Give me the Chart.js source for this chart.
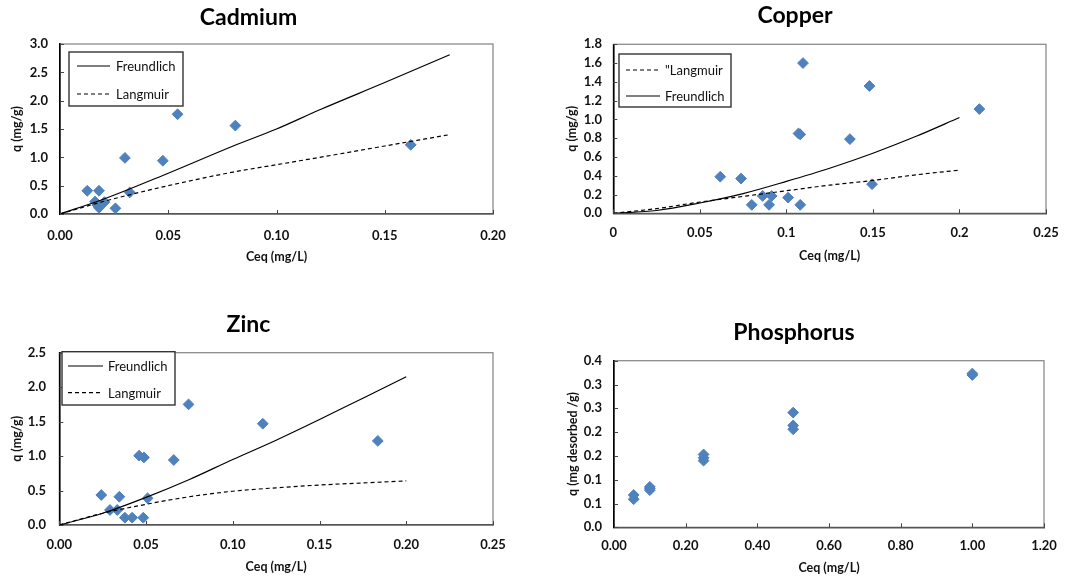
<!DOCTYPE html>
<html>
<head>
<meta charset="utf-8">
<title>Isotherms</title>
<script src="https://cdn.jsdelivr.net/npm/chart.js@4.4.1/dist/chart.umd.min.js"></script>
<style>
  body { margin: 0; background: #fff; }
  #wrap { position: relative; width: 1087px; height: 579px; }
  #wrap canvas { position: absolute; }
</style>
</head>
<body>
<div id="wrap">
  <canvas id="cadmiumChart" width="540" height="270" style="left:0;top:0"></canvas>
  <canvas id="copperChart" width="547" height="270" style="left:540px;top:0"></canvas>
  <canvas id="zincChart" width="540" height="289" style="left:0;top:290px"></canvas>
  <canvas id="phosChart" width="547" height="289" style="left:540px;top:290px"></canvas>
</div>
<script>
// --- 1. DATA ---

// Cadmium
const cadCeq = [0.0126, 0.0180, 0.0162, 0.0180, 0.0172, 0.0205, 0.0256, 0.0300, 0.0322, 0.0475, 0.0543, 0.0810, 0.1620];
const cadQ   = [0.41, 0.41, 0.22, 0.11, 0.16, 0.21, 0.10, 0.99, 0.38, 0.94, 1.76, 1.56, 1.22];
const cadFitX = [0, 0.02, 0.05, 0.08, 0.10, 0.12, 0.15, 0.18];
const cadFreundlich = [0, 0.26, 0.72, 1.20, 1.50, 1.84, 2.32, 2.81];
const cadLangmuir   = [0, 0.22, 0.50, 0.74, 0.87, 1.00, 1.20, 1.40];
const cadXTicks = ['0.00', '0.05', '0.10', '0.15', '0.20'];
const cadYTicks = ['0.0', '0.5', '1.0', '1.5', '2.0', '2.5', '3.0'];

// Copper
const cuCeq = [0.0618, 0.0738, 0.0800, 0.0863, 0.0900, 0.0915, 0.1010, 0.1080, 0.1070, 0.1080, 0.1096, 0.1367, 0.1480, 0.1495, 0.2115];
const cuQ   = [0.39, 0.37, 0.09, 0.185, 0.09, 0.185, 0.167, 0.09, 0.85, 0.84, 1.60, 0.79, 1.356, 0.31, 1.11];
const cuFitX = [0, 0.025, 0.05, 0.075, 0.1, 0.125, 0.15, 0.175, 0.2];
const cuFreundlich = [0, 0.03, 0.11, 0.21, 0.34, 0.48, 0.64, 0.82, 1.02];
const cuLangmuir   = [0, 0.05, 0.12, 0.18, 0.24, 0.30, 0.35, 0.41, 0.46];
const cuXTicks = ['0', '0.05', '0.1', '0.15', '0.2', '0.25'];
const cuYTicks = ['0.0', '0.2', '0.4', '0.6', '0.8', '1.0', '1.2', '1.4', '1.6', '1.8'];

// Zinc
const znCeq = [0.0242, 0.0292, 0.0334, 0.0346, 0.0378, 0.0420, 0.0484, 0.0509, 0.0460, 0.0488, 0.0660, 0.0745, 0.1173, 0.1836];
const znQ   = [0.435, 0.218, 0.218, 0.41, 0.106, 0.106, 0.106, 0.387, 1.006, 0.98, 0.943, 1.75, 1.47, 1.22];
const znFitX = [0, 0.025, 0.05, 0.075, 0.1, 0.125, 0.15, 0.175, 0.2];
const znFreundlich = [0, 0.17, 0.40, 0.66, 0.95, 1.23, 1.53, 1.84, 2.15];
const znLangmuir   = [0, 0.17, 0.30, 0.41, 0.49, 0.54, 0.58, 0.61, 0.64];
const znXTicks = ['0.00', '0.05', '0.10', '0.15', '0.20', '0.25'];
const znYTicks = ['0.0', '0.5', '1.0', '1.5', '2.0', '2.5'];

// Phosphorus
const pCeq = [0.055, 0.055, 0.10, 0.10, 0.10, 0.25, 0.25, 0.25, 0.50, 0.50, 0.50, 1.00, 1.00];
const pQ   = [0.059, 0.068, 0.078, 0.082, 0.085, 0.140, 0.146, 0.153, 0.206, 0.214, 0.241, 0.320, 0.323];
const pXTicks = ['0.00', '0.20', '0.40', '0.60', '0.80', '1.00', '1.20'];
const pYTicks = ['0.0', '0.1', '0.1', '0.2', '0.2', '0.3', '0.3', '0.4'];

// --- 2. STYLE ---

const FONT = 'Lato, "Open Sans", sans-serif';
const TITLE_SIZE = 23;
const TICK_SIZE = 13;
const AXT_SIZE = 12.5;
const POINT_BLUE = '#4f81bd';

// --- 3. PLUGINS ---

// grey plot frame behind the axes, plus Excel-style inner tick marks
const plotFrame = {
    id: 'plotFrame',
    beforeDraw(chart) {
        const { ctx, chartArea: a } = chart;
        ctx.save();
        ctx.strokeStyle = '#8c8c8c';
        ctx.lineWidth = 1.3;
        ctx.strokeRect(a.left, a.top, a.right - a.left, a.bottom - a.top);
        ctx.restore();
    },
    afterDatasetsDraw(chart) {
        const { ctx, chartArea: a, scales: { x, y } } = chart;
        ctx.save();
        ctx.strokeStyle = '#444';
        ctx.lineWidth = 1;
        x.ticks.forEach(t => {
            const px = Math.round(x.getPixelForValue(t.value)) + 0.5;
            ctx.beginPath();
            ctx.moveTo(px, a.bottom);
            ctx.lineTo(px, a.bottom - 4);
            ctx.stroke();
        });
        y.ticks.forEach(t => {
            const py = Math.round(y.getPixelForValue(t.value)) + 0.5;
            ctx.beginPath();
            ctx.moveTo(a.left, py);
            ctx.lineTo(a.left + 4, py);
            ctx.stroke();
        });
        ctx.restore();
    }
};

// boxed legend sitting inside the plot area
const boxLegend = {
    id: 'boxLegend',
    afterDraw(chart, args, opts) {
        if (!opts || !opts.box) return;
        const { ctx } = chart;
        const [bx, by, bw, bh] = opts.box;
        ctx.save();
        ctx.fillStyle = '#fff';
        ctx.fillRect(bx, by, bw, bh);
        ctx.strokeStyle = '#333';
        ctx.lineWidth = 1.4;
        ctx.strokeRect(bx, by, bw, bh);
        ctx.font = `13px ${FONT}`;
        ctx.textBaseline = 'middle';
        ctx.fillStyle = '#111';
        opts.items.forEach((dsIndex, i) => {
            const ds = chart.data.datasets[dsIndex];
            const ry = opts.rows[i];
            ctx.strokeStyle = ds.borderColor;
            ctx.lineWidth = ds.borderWidth;
            ctx.setLineDash(ds.borderDash || []);
            ctx.beginPath();
            ctx.moveTo(opts.line[0], ry);
            ctx.lineTo(opts.line[1], ry);
            ctx.stroke();
            ctx.setLineDash([]);
            ctx.fillText(ds.label, opts.textX, ry + 1);
        });
        ctx.restore();
    }
};

// --- 4. HELPERS ---

const toPoints = (xs, ys) => xs.map((x, i) => ({ x: x, y: ys[i] }));

const fitLine = (label, xs, ys, dashed) => ({
    type: 'scatter',
    label: label,
    data: toPoints(xs, ys),
    showLine: true,
    borderColor: '#000',
    borderWidth: 1.2,
    borderDash: dashed ? [4, 3] : [],
    pointRadius: 0,
    cubicInterpolationMode: 'monotone'
});

const measured = (xs, ys) => ({
    type: 'scatter',
    label: 'measured',
    data: toPoints(xs, ys),
    pointStyle: 'rectRot',
    pointRadius: 5.4,
    backgroundColor: POINT_BLUE,
    borderColor: POINT_BLUE,
    borderWidth: 1
});

const buildChart = (canvasId, g, datasets, xAxis, yAxis, legendCfg) => {
    const padL = 4, padB = 4;
    const titleLH = TITLE_SIZE * 1.2;
    const titleTop = g.titleY - titleLH / 2;
    const tickFont = { family: FONT, size: TICK_SIZE, weight: 'bold' };
    const axtFont = { family: FONT, size: AXT_SIZE, weight: 'bold' };

    return new Chart(document.getElementById(canvasId), {
        type: 'scatter',
        data: { datasets: datasets },
        plugins: [plotFrame, boxLegend],
        options: {
            responsive: false,
            animation: false,
            layout: { padding: { left: padL, right: g.w - g.right, top: 0, bottom: padB } },
            plugins: {
                legend: { display: false },
                tooltip: { enabled: false },
                title: {
                    display: true,
                    text: g.title,
                    color: '#000',
                    font: { family: FONT, size: TITLE_SIZE, weight: 'bold' },
                    padding: { top: titleTop, bottom: g.top - titleLH - titleTop }
                },
                boxLegend: legendCfg || {}
            },
            scales: {
                x: {
                    type: 'linear',
                    min: 0,
                    max: xAxis.max,
                    grid: { display: false, drawTicks: false },
                    border: { display: true, color: '#555', width: 1.5 },
                    ticks: {
                        stepSize: xAxis.step,
                        autoSkip: false,
                        maxRotation: 0,
                        color: '#111',
                        font: tickFont,
                        padding: g.xLabelY - g.bottom - TICK_SIZE * 0.6,
                        callback: v => xAxis.labels[Math.round(v / xAxis.step)] ?? ''
                    },
                    title: {
                        display: true,
                        text: 'Ceq (mg/L)',
                        color: '#111',
                        font: axtFont,
                        padding: { top: 0, bottom: g.h - padB - g.xTitleY - AXT_SIZE * 0.6 }
                    },
                    afterFit: s => { s.height = g.h - padB - g.bottom; }
                },
                y: {
                    type: 'linear',
                    min: 0,
                    max: yAxis.max,
                    grid: { display: false, drawTicks: false },
                    border: { display: true, color: '#000', width: 1.6 },
                    ticks: {
                        stepSize: yAxis.step,
                        autoSkip: false,
                        color: '#111',
                        font: tickFont,
                        padding: g.left - g.yLabelRight,
                        callback: v => yAxis.labels[Math.round(v / yAxis.step)] ?? ''
                    },
                    title: {
                        display: true,
                        text: yAxis.title,
                        color: '#111',
                        font: axtFont,
                        padding: { top: g.yTitleX - padL - AXT_SIZE * 0.6, bottom: 0 }
                    },
                    afterFit: s => { s.width = g.left - padL; }
                }
            }
        }
    });
};

// --- 5. PANELS ---

const renderCadmium = () => buildChart('cadmiumChart',
    { title: 'Cadmium', w: 540, h: 270, left: 60, right: 493, top: 44, bottom: 214,
      titleY: 18, yTitleX: 17, yLabelRight: 48, xLabelY: 236, xTitleY: 257 },
    [fitLine('Freundlich', cadFitX, cadFreundlich, false),
     fitLine('Langmuir', cadFitX, cadLangmuir, true),
     measured(cadCeq, cadQ)],
    { max: 0.2, step: 0.05, labels: cadXTicks },
    { max: 3, step: 0.5, labels: cadYTicks, title: 'q (mg/g)' },
    { box: [69, 52, 114, 54], rows: [66, 94], line: [77, 110], textX: 116, items: [0, 1] });

const renderCopper = () => buildChart('copperChart',
    { title: 'Copper', w: 547, h: 270, left: 73.3, right: 506, top: 44.3, bottom: 213.3,
      titleY: 16, yTitleX: 32, yLabelRight: 62, xLabelY: 233, xTitleY: 256 },
    [fitLine('"Langmuir', cuFitX, cuLangmuir, true),
     fitLine('Freundlich', cuFitX, cuFreundlich, false),
     measured(cuCeq, cuQ)],
    { max: 0.25, step: 0.05, labels: cuXTicks },
    { max: 1.8, step: 0.2, labels: cuYTicks, title: 'q (mg/g)' },
    { box: [79, 54, 112, 53], rows: [70, 96], line: [86, 120], textX: 125, items: [0, 1] });

const renderZinc = () => buildChart('zincChart',
    { title: 'Zinc', w: 540, h: 289, left: 59.3, right: 493, top: 62.7, bottom: 235,
      titleY: 35, yTitleX: 17, yLabelRight: 46, xLabelY: 255, xTitleY: 277 },
    [fitLine('Freundlich', znFitX, znFreundlich, false),
     fitLine('Langmuir', znFitX, znLangmuir, true),
     measured(znCeq, znQ)],
    { max: 0.25, step: 0.05, labels: znXTicks },
    { max: 2.5, step: 0.5, labels: znYTicks, title: 'q (mg/g)' },
    { box: [62, 61.7, 113, 53.3], rows: [76, 102.7], line: [68, 103], textX: 108, items: [0, 1] });

const renderPhosphorus = () => buildChart('phosChart',
    { title: 'Phosphorus', w: 547, h: 289, left: 74, right: 504, top: 70.7, bottom: 237.3,
      titleY: 43, yTitleX: 33, yLabelRight: 62, xLabelY: 256, xTitleY: 278 },
    [measured(pCeq, pQ)],
    { max: 1.2, step: 0.2, labels: pXTicks },
    { max: 0.35, step: 0.05, labels: pYTicks, title: 'q (mg desorbed /g)' },
    null);

renderCadmium();
renderCopper();
renderZinc();
renderPhosphorus();
</script>
</body>
</html>
